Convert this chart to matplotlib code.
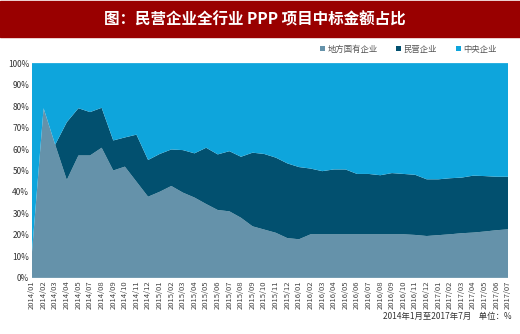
import numpy as np
import matplotlib
matplotlib.use("Agg")
import matplotlib.pyplot as plt
from matplotlib.patches import Rectangle

plt.rcParams['font.family'] = ['Noto Sans CJK SC', 'DejaVu Sans']

# ---------------- Data ---------------- #

months = [
    "2014/01", "2014/02", "2014/03", "2014/04", "2014/05", "2014/07", "2014/08",
    "2014/09", "2014/10", "2014/11", "2014/12",
    "2015/01", "2015/02", "2015/03", "2015/04", "2015/05", "2015/06", "2015/07",
    "2015/08", "2015/09", "2015/10", "2015/11", "2015/12",
    "2016/01", "2016/02", "2016/03", "2016/04", "2016/05", "2016/06", "2016/07",
    "2016/08", "2016/09", "2016/10", "2016/11", "2016/12",
    "2017/01", "2017/02", "2017/03", "2017/04", "2017/05", "2017/06", "2017/07",
]

# 地方国有企业
local_soe = [12, 79, 62, 45.6, 57, 57, 60.6, 50, 51.8, 44.8, 37.8,
             40.1, 42.8, 39.7, 37.4, 34.4, 31.6, 31, 28, 24, 22.5, 21, 18.5,
             18, 20.3, 20.3, 20.3, 20.3, 20.3, 20.3, 20.3, 20.3, 20.3, 20, 19.5,
             19.9, 20.3, 20.8, 21.1, 21.6, 22.2, 22.6]

# 民营企业
private = [0, 0, 0, 26.9, 22, 20.2, 18.6, 14, 13.6, 21.9, 17.1,
           17.6, 17, 19.8, 20.6, 26.2, 25.9, 28, 28.4, 34.3, 35.2, 35, 34.8,
           33.6, 30.6, 29.4, 30.2, 30.2, 28.1, 28.1, 27.5, 28.5, 28.1, 28, 26.4,
           26, 26.1, 25.9, 26.5, 25.8, 24.9, 24.5]

# 中央企业
central = [88, 21, 38, 27.5, 21, 22.8, 20.8, 36, 34.6, 33.3, 45.1,
           42.3, 40.2, 40.5, 42, 39.4, 42.5, 41, 43.6, 41.7, 42.3, 44, 46.7,
           48.4, 49.1, 50.3, 49.5, 49.5, 51.6, 51.6, 52.2, 51.2, 51.6, 52, 54.1,
           54.1, 53.6, 53.3, 52.4, 52.6, 52.9, 52.9]

labels = ["地方国有企业", "民营企业", "中央企业"]
colors = ["#6592aa", "#02506f", "#0ea5dc"]

# ---------------- Plot ---------------- #

fig = plt.figure(figsize=(5.2, 3.34), dpi=100)

# header band
fig.patches.append(Rectangle((0, 0.889), 1, 0.108, transform=fig.transFigure,
                             color="#990000", zorder=0))
fig.text(0.49, 0.943, "图：民营企业全行业 PPP 项目中标金额占比", color="white",
         ha="center", va="center", fontsize=11.2, fontweight="bold")

ax = fig.add_axes([0.0615, 0.168, 0.9155, 0.643])
x = np.arange(len(months))
ax.stackplot(x, local_soe, private, central, colors=colors, labels=labels,
             linewidth=0)

ax.set_xlim(0, len(months) - 1)
ax.set_ylim(0, 100)
ax.set_yticks(range(0, 101, 10))
ax.set_yticklabels([f"{v}%" for v in range(0, 101, 10)], fontsize=6,
                   color="#333333")
ax.set_xticks(x)
ax.set_xticklabels(months, rotation=90, fontsize=5.5, color="#444444")
ax.tick_params(length=0, pad=2)
for s in ax.spines.values():
    s.set_visible(False)

leg = ax.legend(loc="center right", bbox_to_anchor=(0.955, 0.853),
                bbox_transform=fig.transFigure, ncol=3, frameon=False,
                fontsize=6, handlelength=0.6, handleheight=0.6,
                handletextpad=0.3, columnspacing=2.2, borderaxespad=0,
                borderpad=0)
for t in leg.get_texts():
    t.set_color("#555555")

fig.text(0.983, 0.052, "2014年1月至2017年7月    单位：%", ha="right",
         va="center", fontsize=6, color="#333333")

fig.savefig("out.png", dpi=100)
